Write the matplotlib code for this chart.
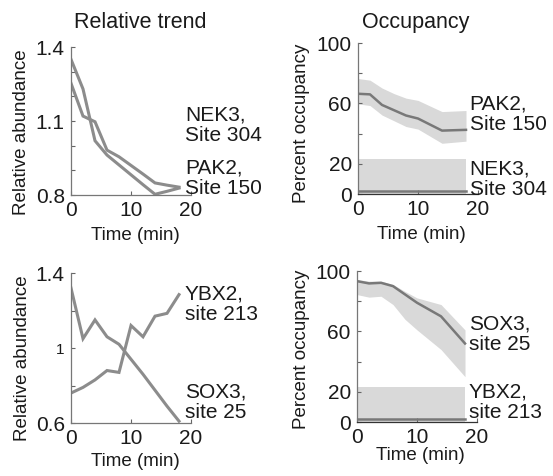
import numpy as np
import matplotlib
matplotlib.use('Agg')
import matplotlib.pyplot as plt

plt.rcParams['font.family'] = ['Liberation Sans', 'DejaVu Sans']

# ---- data ----
t_rel = [0, 2, 4, 6, 8, 10, 12, 14, 16, 18]
nek3_rel = [1.35, 1.23, 1.02, 0.962, 0.922, 0.882, 0.842, 0.803, 0.815, 0.828]
pak2_rel = [1.253, 1.12, 1.097, 0.982, 0.955, 0.92, 0.885, 0.849, 0.84, 0.832]

ybx2_rel = [0.76, 0.79, 0.83, 0.88, 0.87, 1.12, 1.06, 1.17, 1.185, 1.285]
sox3_rel = [1.32, 1.05, 1.15, 1.06, 1.02, 0.94, 0.86, 0.775, 0.69, 0.61]

t_occ = [0, 2, 4, 6, 8, 10, 14, 18]
pak2_occ = [66.4, 66.0, 59.0, 55.5, 52.0, 50.0, 42.0, 42.5]
pak2_hi = [76.5, 75.4, 70.2, 66.5, 63.5, 62.0, 54.6, 55.3]
pak2_lo = [59.7, 58.6, 52.3, 48.5, 44.7, 43.0, 33.6, 35.0]
nek3_occ = [2.0, 2.0, 2.0, 2.0, 2.0, 2.0, 2.0, 2.0]
nek3_hi = [23.5, 23.5, 23.5, 23.5, 23.5, 23.5, 23.5, 23.5]
nek3_lo = [0, 0, 0, 0, 0, 0, 0, 0]

sox3_occ = [93.3, 91.8, 92.2, 90.0, 84.5, 79.0, 70.0, 52.0]
sox3_hi = [94.4, 93.3, 93.3, 91.1, 86.5, 82.2, 77.8, 61.0]
sox3_lo = [84.4, 82.7, 83.3, 77.8, 68.0, 61.0, 48.0, 30.0]
ybx2_occ = [1.8, 1.8, 1.8, 1.8, 1.8, 1.8, 1.8, 1.8]
ybx2_hi = [23.5, 23.5, 23.5, 23.5, 23.5, 23.5, 23.5, 23.5]
ybx2_lo = [0, 0, 0, 0, 0, 0, 0, 0]

line_rel = '#8c8c8c'
line_occ = '#787878'
band = '#d9d9d9'
txt = '#1a1a1a'


def style_ax(ax, spine_col='#777777', bottom_col='#777777'):
    for s in ['top', 'right']:
        ax.spines[s].set_visible(False)
    ax.spines['left'].set_color(spine_col)
    ax.spines['bottom'].set_color(bottom_col)
    ax.spines['left'].set_linewidth(0.9)
    ax.spines['bottom'].set_linewidth(0.9)
    ax.tick_params(direction='in', length=3, width=0.8, color='#666666',
                   labelsize=15, labelcolor=txt, pad=4.5)
    ax.set_xlim(0, 20)
    ax.set_xticks([0, 10, 20])


def side_label(ax, x, y, s):
    ax.text(x, y, s, transform=ax.transAxes, fontsize=15, ha='left',
            va='center', linespacing=1.1, color=txt)


fig = plt.figure(figsize=(5.53, 4.76), dpi=100)

ax1 = fig.add_axes([0.1284, 0.5903, 0.2170, 0.3109])
ax2 = fig.add_axes([0.6474, 0.5924, 0.2170, 0.3172])
ax3 = fig.add_axes([0.1284, 0.1113, 0.2170, 0.3151])
ax4 = fig.add_axes([0.6456, 0.1134, 0.2170, 0.3172])

# relative trend, top
ax1.plot(t_rel, nek3_rel, color=line_rel, lw=2.2, solid_joinstyle='miter')
ax1.plot(t_rel, pak2_rel, color=line_rel, lw=2.2, solid_joinstyle='miter')
style_ax(ax1)
ax1.set_ylim(0.8, 1.4)
ax1.set_yticks(np.arange(0.8, 1.41, 0.1))
ax1.set_yticklabels(['0.8', '', '', '1.1', '', '', '1.4'])
side_label(ax1, 0.95, 0.47, 'NEK3,\nSite 304')
side_label(ax1, 0.95, 0.11, 'PAK2,\nSite 150')

# occupancy, top
ax2.fill_between(t_occ, pak2_lo, pak2_hi, color=band, lw=0)
ax2.fill_between(t_occ, nek3_lo, nek3_hi, color=band, lw=0)
ax2.plot(t_occ, pak2_occ, color=line_occ, lw=1.8)
ax2.plot(t_occ, nek3_occ, color=line_occ, lw=1.8)
style_ax(ax2, bottom_col='#333333')
ax2.set_ylim(0, 100)
ax2.set_yticks([0, 20, 40, 60, 80, 100])
ax2.set_yticklabels(['0', '20', '', '60', '', '100'])
side_label(ax2, 0.93, 0.53, 'PAK2,\nSite 150')
side_label(ax2, 0.93, 0.10, 'NEK3,\nSite 304')

# relative trend, bottom
ax3.plot(t_rel, sox3_rel, color=line_rel, lw=2.2, solid_joinstyle='miter')
ax3.plot(t_rel, ybx2_rel, color=line_rel, lw=2.2, solid_joinstyle='miter')
style_ax(ax3)
ax3.set_ylim(0.6, 1.4)
ax3.set_yticks([0.6, 0.8, 1.0, 1.2, 1.4])
ax3.set_yticklabels(['0.6', '', '1', '', '1.4'])
ax3.get_yticklabels()[2].set_fontsize(11)
side_label(ax3, 0.95, 0.79, 'YBX2,\nsite 213')
side_label(ax3, 0.95, 0.14, 'SOX3,\nsite 25')

# occupancy, bottom
ax4.fill_between(t_occ, sox3_lo, sox3_hi, color=band, lw=0)
ax4.fill_between(t_occ, ybx2_lo, ybx2_hi, color=band, lw=0)
ax4.plot(t_occ, sox3_occ, color=line_occ, lw=1.8)
ax4.plot(t_occ, ybx2_occ, color=line_occ, lw=1.8)
style_ax(ax4, bottom_col='#333333')
ax4.set_ylim(0, 100)
ax4.set_yticks([0, 20, 40, 60, 80, 100])
ax4.set_yticklabels(['0', '20', '', '60', '', '100'])
side_label(ax4, 0.93, 0.58, 'SOX3,\nsite 25')
side_label(ax4, 0.93, 0.13, 'YBX2,\nsite 213')

# titles
ax1.set_title('Relative trend', fontsize=15.5, color=txt, x=0.58, y=1.128, pad=0)
ax2.set_title('Occupancy', fontsize=15.5, color=txt, x=0.48, y=1.097, pad=0)

# axis labels
for ax, lab in [(ax1, 'Relative abundance'), (ax3, 'Relative abundance'),
                (ax2, 'Percent occupancy'), (ax4, 'Percent occupancy')]:
    ax.set_ylabel(lab, fontsize=13.5, color=txt)
    ax.set_xlabel('Time (min)', fontsize=13.5, color=txt)

ax1.yaxis.set_label_coords(-0.342, 0.426)
ax2.yaxis.set_label_coords(-0.40, 0.468)
ax3.yaxis.set_label_coords(-0.336, 0.433)
ax4.yaxis.set_label_coords(-0.392, 0.483)
ax1.xaxis.set_label_coords(0.54, -0.213)
ax2.xaxis.set_label_coords(0.53, -0.213)
ax3.xaxis.set_label_coords(0.54, -0.20)
ax4.xaxis.set_label_coords(0.53, -0.165)

fig.savefig('out.png', dpi=100)
